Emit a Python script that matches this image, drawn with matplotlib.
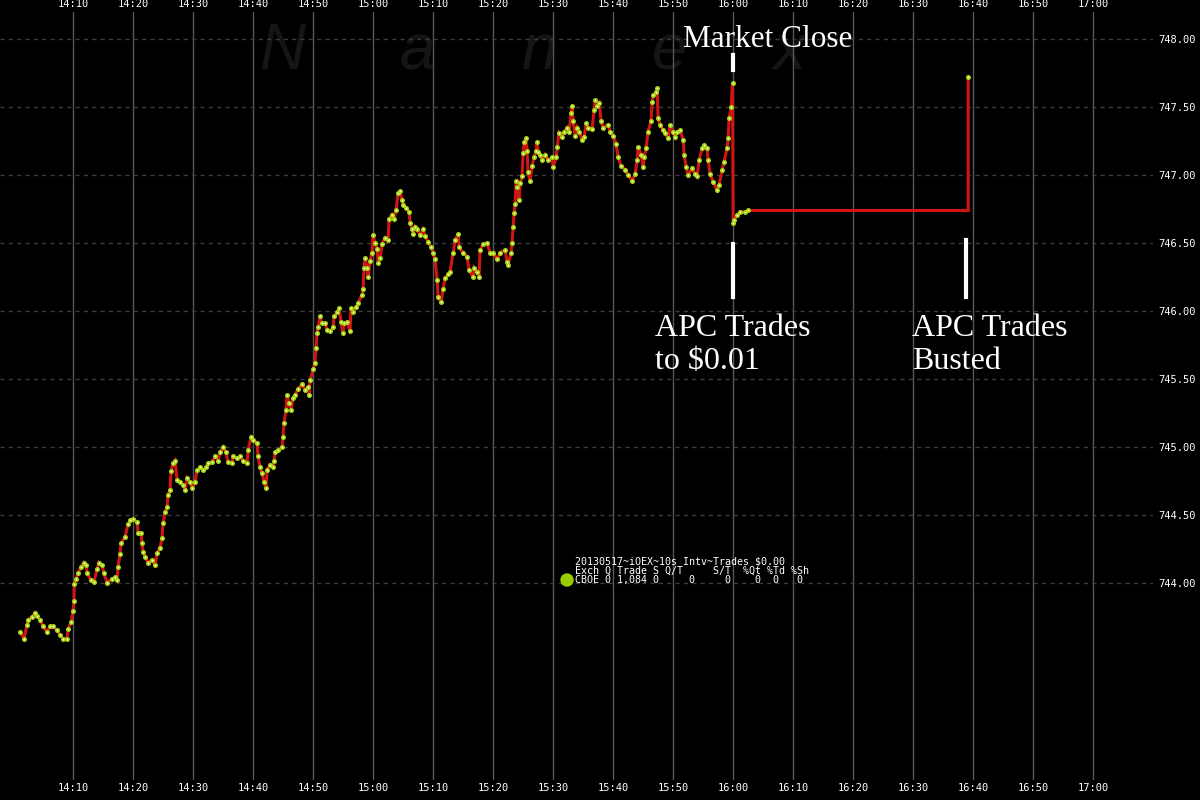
import numpy as np
import matplotlib
matplotlib.use("Agg")
import matplotlib.pyplot as plt
from matplotlib.patches import Ellipse

# minutes after 14:00 and trade price (CBOE ~10s interval)
minutes = [
    1.17, 1.83, 2.33, 2.5, 3.17, 3.67, 4.0, 4.5, 5.0, 5.67, 6.17, 6.67, 7.33, 7.83, 8.33, 9.0,
    9.17, 9.67, 10.0, 10.17, 10.2, 10.5, 10.83, 11.33, 11.83, 12.17, 12.33, 13.0, 13.5, 14.0,
    14.33, 14.83, 15.17, 15.67, 16.5, 17.0, 17.33, 17.5, 17.83, 18.0, 18.67, 19.17, 19.5, 20.0,
    20.67, 20.83, 21.33, 21.5, 21.67, 22.0, 22.5, 23.17, 23.67, 24.0, 24.5, 24.83, 25.0, 25.33,
    25.67, 25.83, 26.17, 26.33, 26.67, 27.0, 27.33, 27.83, 28.33, 28.67, 29.0, 29.5, 29.83,
    30.33, 30.67, 31.17, 31.67, 32.17, 32.5, 33.17, 33.67, 34.17, 34.5, 35.0, 35.5, 35.83,
    36.5, 36.67, 37.33, 37.83, 38.33, 39.0, 39.17, 39.67, 40.0, 40.67, 40.83, 41.17, 41.5,
    41.83, 42.17, 42.33, 42.83, 43.33, 43.5, 43.67, 44.17, 44.83, 45.0, 45.17, 45.5, 45.67,
    46.0, 46.33, 46.67, 47.0, 47.5, 48.17, 48.67, 49.17, 49.33, 49.5, 50.0, 50.33, 50.5,
    50.67, 50.83, 51.17, 51.5, 52.0, 52.33, 52.83, 53.33, 53.5, 54.0, 54.33, 54.67, 55.0,
    55.17, 55.67, 56.17, 56.33, 56.67, 57.17, 57.5, 58.17, 58.33, 58.5, 58.67, 59.0, 59.17,
    59.5, 59.83, 60.0, 60.33, 60.67, 60.83, 61.17, 61.5, 62.0, 62.5, 62.67, 63.17, 63.5,
    63.83, 64.17, 64.5, 64.83, 65.0, 65.5, 66.0, 66.17, 66.5, 66.67, 67.0, 67.33, 67.83,
    68.33, 68.67, 69.17, 69.67, 70.0, 70.33, 70.67, 70.83, 71.33, 71.67, 72.0, 72.5, 72.83,
    73.33, 73.67, 74.17, 74.33, 75.0, 75.67, 76.0, 76.67, 76.83, 77.33, 77.67, 77.83, 78.33,
    79.0, 79.5, 80.0, 80.67, 81.17, 82.0, 82.33, 82.5, 83.0, 83.17, 83.33, 83.5, 83.67,
    83.83, 84.0, 84.33, 84.5, 84.83, 85.0, 85.17, 85.5, 85.67, 85.83, 86.17, 86.5, 86.83,
    87.17, 87.33, 87.5, 87.83, 88.17, 88.67, 89.17, 89.83, 90.0, 90.5, 90.67, 91.0, 91.5,
    91.83, 92.33, 92.67, 93.0, 93.17, 93.33, 93.67, 94.0, 94.33, 94.83, 95.17, 95.5, 95.83,
    96.5, 96.83, 97.0, 97.33, 97.67, 98.0, 98.33, 99.17, 99.5, 100.0, 100.5, 100.83, 101.33,
    102.0, 102.5, 103.17, 103.67, 104.0, 104.17, 104.67, 105.0, 105.17, 105.5, 105.83,
    106.33, 106.5, 106.67, 107.17, 107.33, 107.5, 107.83, 108.33, 108.67, 109.17, 109.5,
    110.0, 110.33, 110.67, 111.17, 111.67, 111.83, 112.17, 112.5, 113.17, 113.67, 114.0,
    114.33, 114.83, 115.17, 115.67, 115.83, 116.17, 116.67, 117.33, 117.67, 118.17, 118.5,
    119.0, 119.17, 119.33, 119.67, 119.9, 120.0, 120.17, 120.67, 121.17, 122.0, 122.5,
]
prices = [
    743.64, 743.59, 743.69, 743.73, 743.75, 743.78, 743.76, 743.73, 743.68, 743.64, 743.68,
    743.68, 743.65, 743.62, 743.59, 743.59, 743.66, 743.71, 743.79, 743.87, 743.99, 744.03,
    744.07, 744.12, 744.15, 744.13, 744.07, 744.02, 744.01, 744.10, 744.15, 744.13, 744.07,
    744.00, 744.03, 744.04, 744.02, 744.12, 744.21, 744.29, 744.34, 744.43, 744.46, 744.47,
    744.45, 744.37, 744.37, 744.29, 744.23, 744.19, 744.15, 744.17, 744.13, 744.22, 744.26,
    744.33, 744.44, 744.52, 744.56, 744.65, 744.68, 744.82, 744.88, 744.90, 744.76, 744.74,
    744.72, 744.68, 744.77, 744.74, 744.70, 744.74, 744.83, 744.85, 744.83, 744.85, 744.88,
    744.89, 744.93, 744.90, 744.96, 745.00, 744.96, 744.89, 744.88, 744.93, 744.92, 744.93,
    744.90, 744.88, 744.98, 745.07, 745.05, 745.03, 744.93, 744.85, 744.81, 744.74, 744.70,
    744.83, 744.87, 744.85, 744.90, 744.96, 744.98, 745.00, 745.07, 745.18, 745.27, 745.38,
    745.32, 745.27, 745.36, 745.38, 745.43, 745.46, 745.42, 745.44, 745.38, 745.49, 745.57,
    745.62, 745.73, 745.84, 745.88, 745.96, 745.91, 745.91, 745.86, 745.85, 745.88, 745.96,
    745.99, 746.02, 745.92, 745.84, 745.91, 745.92, 745.85, 746.02, 745.99, 746.03, 746.06,
    746.12, 746.16, 746.32, 746.39, 746.32, 746.25, 746.37, 746.43, 746.56, 746.50, 746.46,
    746.35, 746.39, 746.49, 746.54, 746.52, 746.68, 746.71, 746.68, 746.74, 746.87, 746.88,
    746.82, 746.78, 746.76, 746.73, 746.65, 746.60, 746.57, 746.62, 746.60, 746.56, 746.60,
    746.55, 746.51, 746.47, 746.43, 746.38, 746.23, 746.10, 746.07, 746.16, 746.24, 746.27,
    746.29, 746.43, 746.52, 746.57, 746.47, 746.43, 746.40, 746.30, 746.25, 746.32, 746.29,
    746.25, 746.45, 746.49, 746.50, 746.43, 746.43, 746.38, 746.43, 746.45, 746.36, 746.34,
    746.43, 746.50, 746.62, 746.72, 746.79, 746.96, 746.91, 746.82, 746.94, 746.99, 747.16,
    747.24, 747.27, 747.18, 747.02, 746.96, 747.07, 747.13, 747.18, 747.24, 747.17, 747.15,
    747.11, 747.15, 747.11, 747.13, 747.06, 747.13, 747.21, 747.31, 747.28, 747.32, 747.35,
    747.32, 747.46, 747.51, 747.40, 747.29, 747.35, 747.32, 747.26, 747.28, 747.38, 747.35,
    747.34, 747.48, 747.55, 747.51, 747.53, 747.40, 747.35, 747.37, 747.32, 747.29, 747.23,
    747.13, 747.07, 747.04, 747.00, 746.96, 747.01, 747.11, 747.21, 747.15, 747.06, 747.13,
    747.20, 747.32, 747.40, 747.54, 747.59, 747.61, 747.64, 747.42, 747.37, 747.33, 747.31,
    747.27, 747.37, 747.32, 747.28, 747.32, 747.33, 747.26, 747.15, 747.06, 747.00, 747.05,
    747.01, 746.99, 747.11, 747.20, 747.22, 747.20, 747.11, 747.01, 746.95, 746.89, 746.93,
    747.04, 747.10, 747.20, 747.27, 747.42, 747.50, 747.68, 746.65, 746.67, 746.71, 746.73,
    746.73, 746.74,
]
# after-hours: price sits until the busted trades are removed
flat_price = 746.74
bust_minute = 159.17
bust_price = 747.72

close_minute = 120.0
bust_mark_minute = 158.83

tick_minutes = list(range(10, 181, 10))
tick_labels = [f"{14 + m // 60}:{m % 60:02d}" for m in tick_minutes]
price_ticks = [744.0, 744.5, 745.0, 745.5, 746.0, 746.5, 747.0, 747.5, 748.0]

legend_lines = [
    "20130517~iOEX~10s Intv~Trades $0.00",
    "Exch Q Trade S Q/T     S/T  %Qt %Td %Sh",
    "CBOE 0 1,084 0     0     0    0  0   0",
]

fig = plt.figure(figsize=(12, 8), dpi=100, facecolor="black")
ax = fig.add_axes([0, 0.025, 0.961, 0.96])
ax.set_facecolor("black")

ax.set_xlim(-2.167, 190)
ax.set_ylim(742.55, 748.2)

# grid
for m in tick_minutes:
    ax.axvline(m, color="#585858", lw=1, zorder=1)
for p in price_ticks:
    ax.axhline(p, color="#3c3c3c", lw=1, ls=(0, (3, 3)), zorder=1)

# faint watermark, behind everything in the axes
for ch, fx in zip("Nanex", [282, 417, 540, 670, 790]):
    ax.text(fx / 1200, 1 - 52 / 800, ch, color="#151515", fontsize=46, style="italic",
            family="Liberation Sans", ha="center", va="center", zorder=0.5,
            transform=fig.transFigure)

# price line
line_t = minutes + [bust_minute, bust_minute]
line_p = prices + [flat_price, bust_price]
ax.plot(line_t, line_p, color="#d41414", lw=2.2, zorder=3, solid_joinstyle="miter")
mark_t = minutes + [bust_minute]
mark_p = prices + [bust_price]
ax.plot(mark_t, mark_p, "o", ms=3.6, color="#a6d608", mec="none", zorder=4)
ax.plot(mark_t, mark_p, "s", ms=1.1, color="white", mec="none", zorder=5)

# annotation markers
ax.plot([close_minute, close_minute], [747.88, 747.77], color="white", lw=3, zorder=6)
ax.plot([close_minute, close_minute], [746.49, 746.10], color="white", lw=3, zorder=6)
ax.plot([bust_mark_minute, bust_mark_minute], [746.52, 746.10], color="white", lw=3, zorder=6)

serif = "Liberation Serif"
ax.text(close_minute + 5.8, 748.0, "Market Close", color="white", fontsize=22.5, family=serif,
        ha="center", va="center", zorder=6)
ax.text(107.0, 745.75, "APC Trades\nto $0.01", color="white", fontsize=23, family=serif,
        ha="left", va="center", linespacing=1.2, zorder=6)
ax.text(149.8, 745.75, "APC Trades\nBusted", color="white", fontsize=23, family=serif,
        ha="left", va="center", linespacing=1.2, zorder=6)

# legend block
for i, s in enumerate(legend_lines):
    fig.text(575 / 1200, 1 - (561 + 9.5 * i) / 800, s, color="white", fontsize=7.2,
             family="DejaVu Sans Mono", ha="left", va="center")
fig.add_artist(Ellipse((567 / 1200, 1 - 580 / 800), 12 / 1200, 12 / 800,
                       transform=fig.transFigure, color="#99cc00"))

# ticks
ax.set_xticks(tick_minutes)
ax.set_xticklabels(tick_labels)
ax.set_yticks(price_ticks)
ax.set_yticklabels([f"{p:.2f}" for p in price_ticks])
ax.tick_params(axis="x", which="both", length=0, colors="white", labelsize=7.5,
               labeltop=True, labelbottom=True, pad=2)
ax.tick_params(axis="y", which="both", length=0, colors="white", labelsize=7.5,
               labelleft=False, labelright=True, left=False, right=False, pad=3.5)
for lab in ax.get_xticklabels() + ax.get_yticklabels():
    lab.set_family("DejaVu Sans Mono")
for s in ax.spines.values():
    s.set_visible(False)

fig.savefig("out.png", dpi=100, facecolor="black")
